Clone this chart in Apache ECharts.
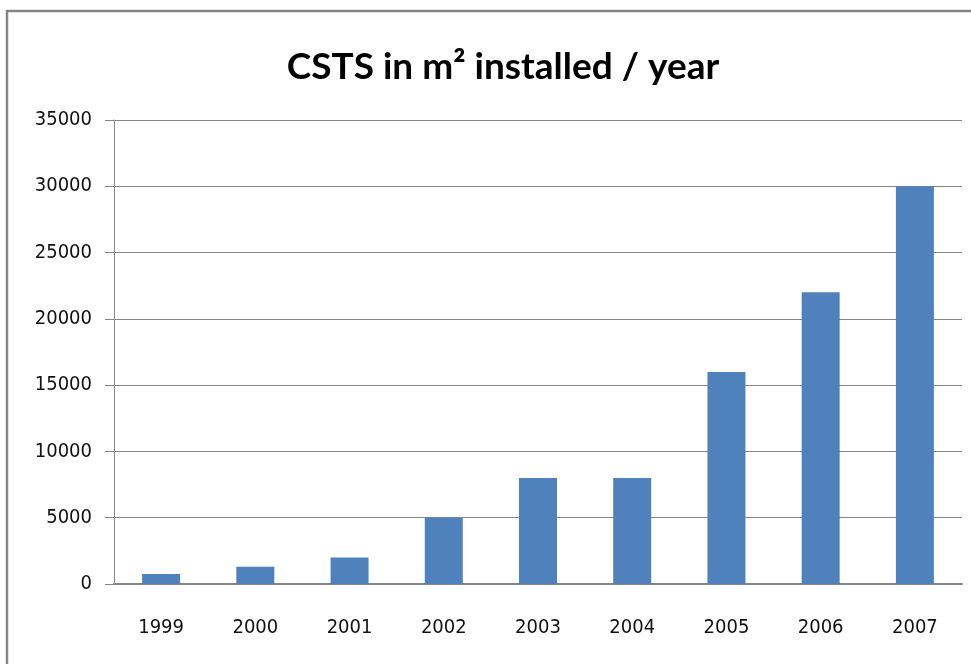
<!DOCTYPE html>
<html>
<head>
<meta charset="UTF-8">
<title>CSTS</title>
<script src="https://cdn.jsdelivr.net/npm/echarts@6/dist/echarts.min.js"></script>
<style>
html, body { margin: 0; padding: 0; background: #fff; }
#chart { width: 971px; height: 664px; }
</style>
</head>
<body>
<div id="chart"></div>
<script type="text/javascript">
var years = ['1999', '2000', '2001', '2002', '2003', '2004', '2005', '2006', '2007'];
var installed = [750, 1300, 2000, 5000, 8000, 8000, 16000, 22000, 30000];
var yMin = 0, yMax = 35000, yStep = 5000;

var labelFont = '"DejaVu Sans Condensed", "Liberation Sans", sans-serif';

var myChart = echarts.init(document.getElementById('chart'));
var option = {
	animation: false,
	title: {
		text: 'CSTS in m² installed / year',
		left: 498,
		top: 44,
		textAlign: 'center',
		textStyle: {
			fontFamily: 'Lato',
			fontWeight: 'bold',
			fontSize: 37,
			color: '#000'
		}
	},
	//外框
	graphic: [{
		type: 'rect',
		shape: { x: 7, y: 11, width: 1000, height: 700 },
		style: { fill: 'none', stroke: '#868686', lineWidth: 2.5 }
	}],
	grid: { left: 114, right: 9, top: 120, bottom: 80 },
	xAxis: {
		type: 'category',
		data: years,
		axisLine: { lineStyle: { color: '#868686', width: 2 } },
		axisTick: { length: 9, lineStyle: { color: '#868686' } },
		axisLabel: {
			margin: 34,
			fontFamily: labelFont,
			fontSize: 20,
			color: '#111'
		}
	},
	yAxis: {
		type: 'value',
		min: yMin,
		max: yMax,
		interval: yStep,
		axisLine: { show: true, lineStyle: { color: '#868686', width: 1 } },
		axisTick: { show: true, length: 9, lineStyle: { color: '#868686' } },
		splitLine: { lineStyle: { color: '#868686', width: 1 } },
		axisLabel: {
			margin: 22,
			fontFamily: labelFont,
			fontSize: 20,
			color: '#111',
			formatter: function (v) { return String(v); }
		}
	},
	series: [{
		type: 'bar',
		data: installed,
		barWidth: 38,
		itemStyle: { color: '#4f81bd' }
	}]
};
myChart.setOption(option);
</script>
</body>
</html>
